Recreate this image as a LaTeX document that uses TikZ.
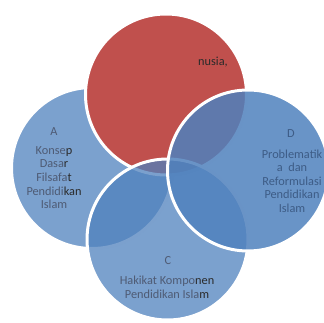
\documentclass[tikz,border=0pt]{standalone}
\usepackage{fontspec}
\setmainfont{Carlito}
\definecolor{vblue}{HTML}{4F81BD}
\definecolor{vred}{HTML}{C0504D}
\definecolor{tgray}{HTML}{4E5B74}
\definecolor{tblue}{HTML}{3D5C86}
\definecolor{tdark}{HTML}{2A2A2A}
\begin{document}
\begin{tikzpicture}[x=1pt,y=-1pt,
  venn/.style={circle,inner sep=0pt,minimum size=161pt,line width=3pt,draw=white},
  bluec/.style={venn,fill=vblue,fill opacity=0.75,draw opacity=1},
  redc/.style={venn,fill=vred},
  lbl/.style={text=tgray,align=center,inner sep=0pt,font=\fontsize{12.3}{13.6}\selectfont}]
\useasboundingbox (0,0) rectangle (324,323);
\node[bluec] (A) at (92,168) {};
\node[redc] (B) at (166,94.5) {};
\node[bluec] (C) at (167.5,239.5) {};
\node[bluec,fill opacity=0.85] (D) at (248,170.5) {};
\node[lbl] (Ah) at (54,132) {A};
\node[lbl] (At) at (54,177.5) {Konse\textcolor{tdark}{p}\\Dasa\textcolor{tdark}{r}\\Filsafa\textcolor{tdark}{t}\\Pendidi\textcolor{tdark}{kan}\\Islam};
\node[lbl,text=tblue] (Dh) at (291,134) {D};
\node[lbl,text=tblue] (Dt) at (292,181) {Problematik\\a\ \ dan\\Reformulasi\\Pendidikan\\Islam};
\node[lbl] (Ch) at (168,261) {C};
\node[lbl] (Ct) at (167,287.5) {Hakikat Kompo\textcolor{tdark}{nen}\\Pendidikan Isla\textcolor{tdark}{m}};
\node[lbl,text=tdark] (Bt) at (213,62) {nusia,};
\end{tikzpicture}
\end{document}
